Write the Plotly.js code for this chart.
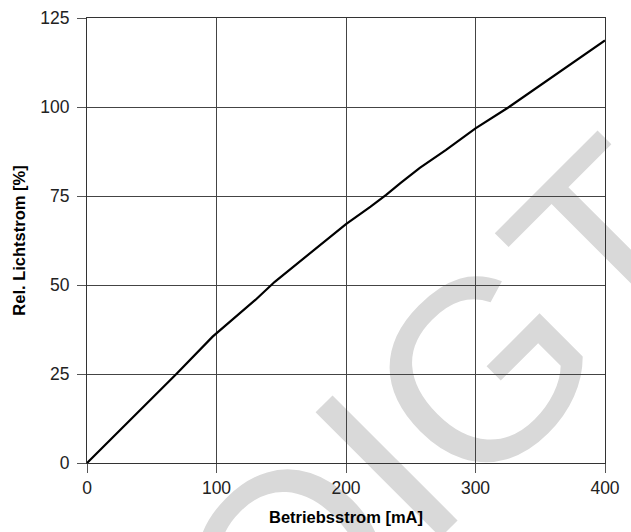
<!DOCTYPE html>
<html>
<head>
<meta charset="utf-8">
<script src="https://cdn.plot.ly/plotly-3.0.1.min.js"></script>
<style>
  html, body { margin: 0; padding: 0; background: #ffffff; }
  #wrap { position: relative; width: 631px; height: 532px; overflow: hidden; background: #ffffff; }
  #wm { position: absolute; left: 0; top: 0; }
  #chart { position: absolute; left: 0; top: 0; width: 631px; height: 532px; }
</style>
</head>
<body>
<div id="wrap">
  <svg id="wm" width="631" height="532">
    <text x="444" y="534" transform="rotate(-45 444 534)" text-anchor="middle"
          font-family="Liberation Sans, Arial, sans-serif" font-size="257" fill="#d9d9d9">VOIGT</text>
  </svg>
  <div id="chart"></div>
</div>
<script>
// Data
const currentMA = [0, 30, 69, 97, 130, 145, 172, 190, 200, 219, 231, 242, 257, 277, 300, 325, 355, 381, 400];
const relFlux   = [0, 10.8, 25, 35.5, 45.8, 50.9, 58.9, 64.4, 67.1, 72, 75.3, 78.6, 82.9, 87.9, 94, 99.8, 107.4, 114, 118.7];
const xTicks = [0, 100, 200, 300, 400];
const yTicks = [0, 25, 50, 75, 100, 125];
const xTitle = 'Betriebsstrom [mA]';
const yTitle = 'Rel. Lichtstrom [%]';

const tickFont = {family: 'Liberation Sans, Arial, sans-serif', size: 17.5, color: '#222'};
const titleFont = {family: 'Liberation Sans, Arial, sans-serif', size: 16.5, color: '#000', weight: 'bold'};

const trace = {
  x: currentMA, y: relFlux, type: 'scatter', mode: 'lines',
  line: {color: '#000', width: 2.2}, hoverinfo: 'skip'
};

const axisCommon = {
  showgrid: true, gridcolor: '#444', gridwidth: 1,
  showline: true, linecolor: '#333', linewidth: 1, mirror: true,
  zeroline: false,
  ticks: 'outside', ticklen: 9, tickcolor: '#555', tickwidth: 1,
  tickfont: tickFont, automargin: false
};

const layout = {
  width: 631, height: 532,
  margin: {l: 87, r: 26, t: 18, b: 69},
  paper_bgcolor: 'rgba(0,0,0,0)',
  plot_bgcolor: 'rgba(0,0,0,0)',
  showlegend: false,
  xaxis: Object.assign({}, axisCommon, {
    range: [0, 400], tickvals: xTicks, ticktext: xTicks.map(String),
    title: {text: xTitle, font: titleFont, standoff: 14}
  }),
  yaxis: Object.assign({}, axisCommon, {
    range: [0, 125], tickvals: yTicks, ticktext: yTicks.map(String),
    ticklabelstandoff: 4,
    title: {text: yTitle, font: titleFont, standoff: 10}
  })
};

Plotly.newPlot('chart', [trace], layout, {displayModeBar: false, staticPlot: true});
</script>
</body>
</html>
